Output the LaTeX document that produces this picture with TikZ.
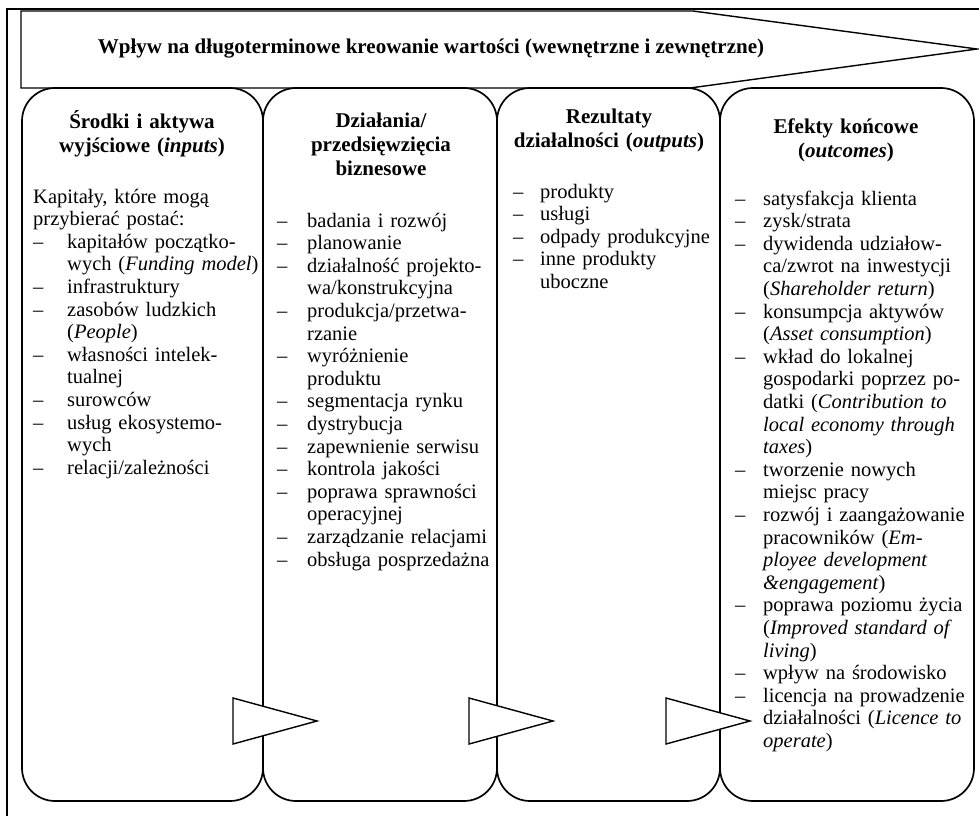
\documentclass[tikz,border=0pt]{standalone}
\usepackage{fontspec}
\setmainfont{Liberation Serif}
\newlength\ind
\newcommand\itm{\makebox[\ind][l]{--}}
\newcommand\cnt{\hspace*{\ind}}
\newcommand\txtfont{\fontsize{20.5pt}{22.6pt}\selectfont\lineskiplimit=-100pt}
\newcommand\headfont{\fontsize{21pt}{24pt}\selectfont\bfseries\lineskiplimit=-100pt}
\begin{document}
\begin{tikzpicture}[x=1pt,y=1pt,
    frame/.style={line width=2pt},
    col/.style={draw,line width=1.7pt,rounded corners=33pt},
    pointer/.style={draw,fill=white,line width=1.4pt,line join=miter},
    head/.style={inner sep=0pt,anchor=base,text width=236pt,
      align=center,font=\headfont},
    body/.style={inner sep=0pt,anchor=base west,text width=250pt,
      align=left,font=\txtfont,execute at begin node={\setlength\ind{#1}}}]
    \useasboundingbox (0,0) rectangle (979,-816);
    \draw[frame] (7,-816) -- (7,-9) -- (979,-9);
    \draw[line width=1.4pt] (21,-11) -- (693,-11) -- (977,-49)
      -- (690,-88) -- (21,-88) -- cycle;
    \node[inner sep=0pt,anchor=base,font=\headfont] (title) at (431,-54)
      {Wpływ na długoterminowe kreowanie wartości (wewnętrzne i zewnętrzne)};
    \draw[col] (22,-88) rectangle (263,-801);
    \draw[col] (263,-88) rectangle (497,-801);
    \draw[col] (497,-88) rectangle (720,-801);
    \draw[col] (720,-88) rectangle (974,-801);
    \foreach \x in {233,469,666}
      \draw[pointer] (\x,-698) -- ++(84,-23) -- ++(-84,-23) -- cycle;
    \node[head] (inputs) at (142,-128)
      {Środki i aktywa\\wyjściowe (\textit{inputs})};
    \node[body=34pt] (inputslist) at (33,-203)
      {Kapitały, które mogą\\
      przybierać postać:\\
      \itm kapitałów początko-\\
      \cnt wych (\textit{Funding model})\\
      \itm infrastruktury\\
      \itm zasobów ludzkich\\
      \cnt (\textit{People})\\
      \itm własności intelek-\\
      \cnt tualnej\\
      \itm surowców\\
      \itm usług ekosystemo-\\
      \cnt wych\\
      \itm relacji/zależności};
    \node[head] (activities) at (381,-127)
      {Działania/\\przedsięwzięcia\\biznesowe};
    \node[body=30pt] (activitieslist) at (277,-227)
      {\itm badania i rozwój\\
      \itm planowanie\\
      \itm działalność projekto-\\
      \cnt wa/konstrukcyjna\\
      \itm produkcja/przetwa-\\
      \cnt rzanie\\
      \itm wyróżnienie\\
      \cnt produktu\\
      \itm segmentacja rynku\\
      \itm dystrybucja\\
      \itm zapewnienie serwisu\\
      \itm kontrola jakości\\
      \itm poprawa sprawności\\
      \cnt operacyjnej\\
      \itm zarządzanie relacjami\\
      \itm obsługa posprzedażna};
    \node[head] (outputs) at (609,-123)
      {Rezultaty\\działalności (\textit{outputs})};
    \node[body=27pt] (outputslist) at (513,-198)
      {\itm produkty\\
      \itm usługi\\
      \itm odpady produkcyjne\\
      \itm inne produkty\\
      \cnt uboczne};
    \node[head] (outcomes) at (846,-133)
      {Efekty końcowe\\(\textit{outcomes})};
    \node[body=28pt] (outcomeslist) at (735,-205)
      {\itm satysfakcja klienta\\
      \itm zysk/strata\\
      \itm dywidenda udziałow-\\
      \cnt ca/zwrot na inwestycji\\
      \cnt (\textit{Shareholder return})\\
      \itm konsumpcja aktywów\\
      \cnt (\textit{Asset consumption})\\
      \itm wkład do lokalnej\\
      \cnt gospodarki poprzez po-\\
      \cnt datki (\textit{Contribution to}\\
      \cnt \textit{local economy through}\\
      \cnt \textit{taxes})\\
      \itm tworzenie nowych\\
      \cnt miejsc pracy\\
      \itm rozwój i zaangażowanie\\
      \cnt pracowników (\textit{Em-}\\
      \cnt \textit{ployee development}\\
      \cnt \textit{\&engagement})\\
      \itm poprawa poziomu życia\\
      \cnt (\textit{Improved standard of}\\
      \cnt \textit{living})\\
      \itm wpływ na środowisko\\
      \itm licencja na prowadzenie\\
      \cnt działalności (\textit{Licence to}\\
      \cnt \textit{operate})};
\end{tikzpicture}
\end{document}
